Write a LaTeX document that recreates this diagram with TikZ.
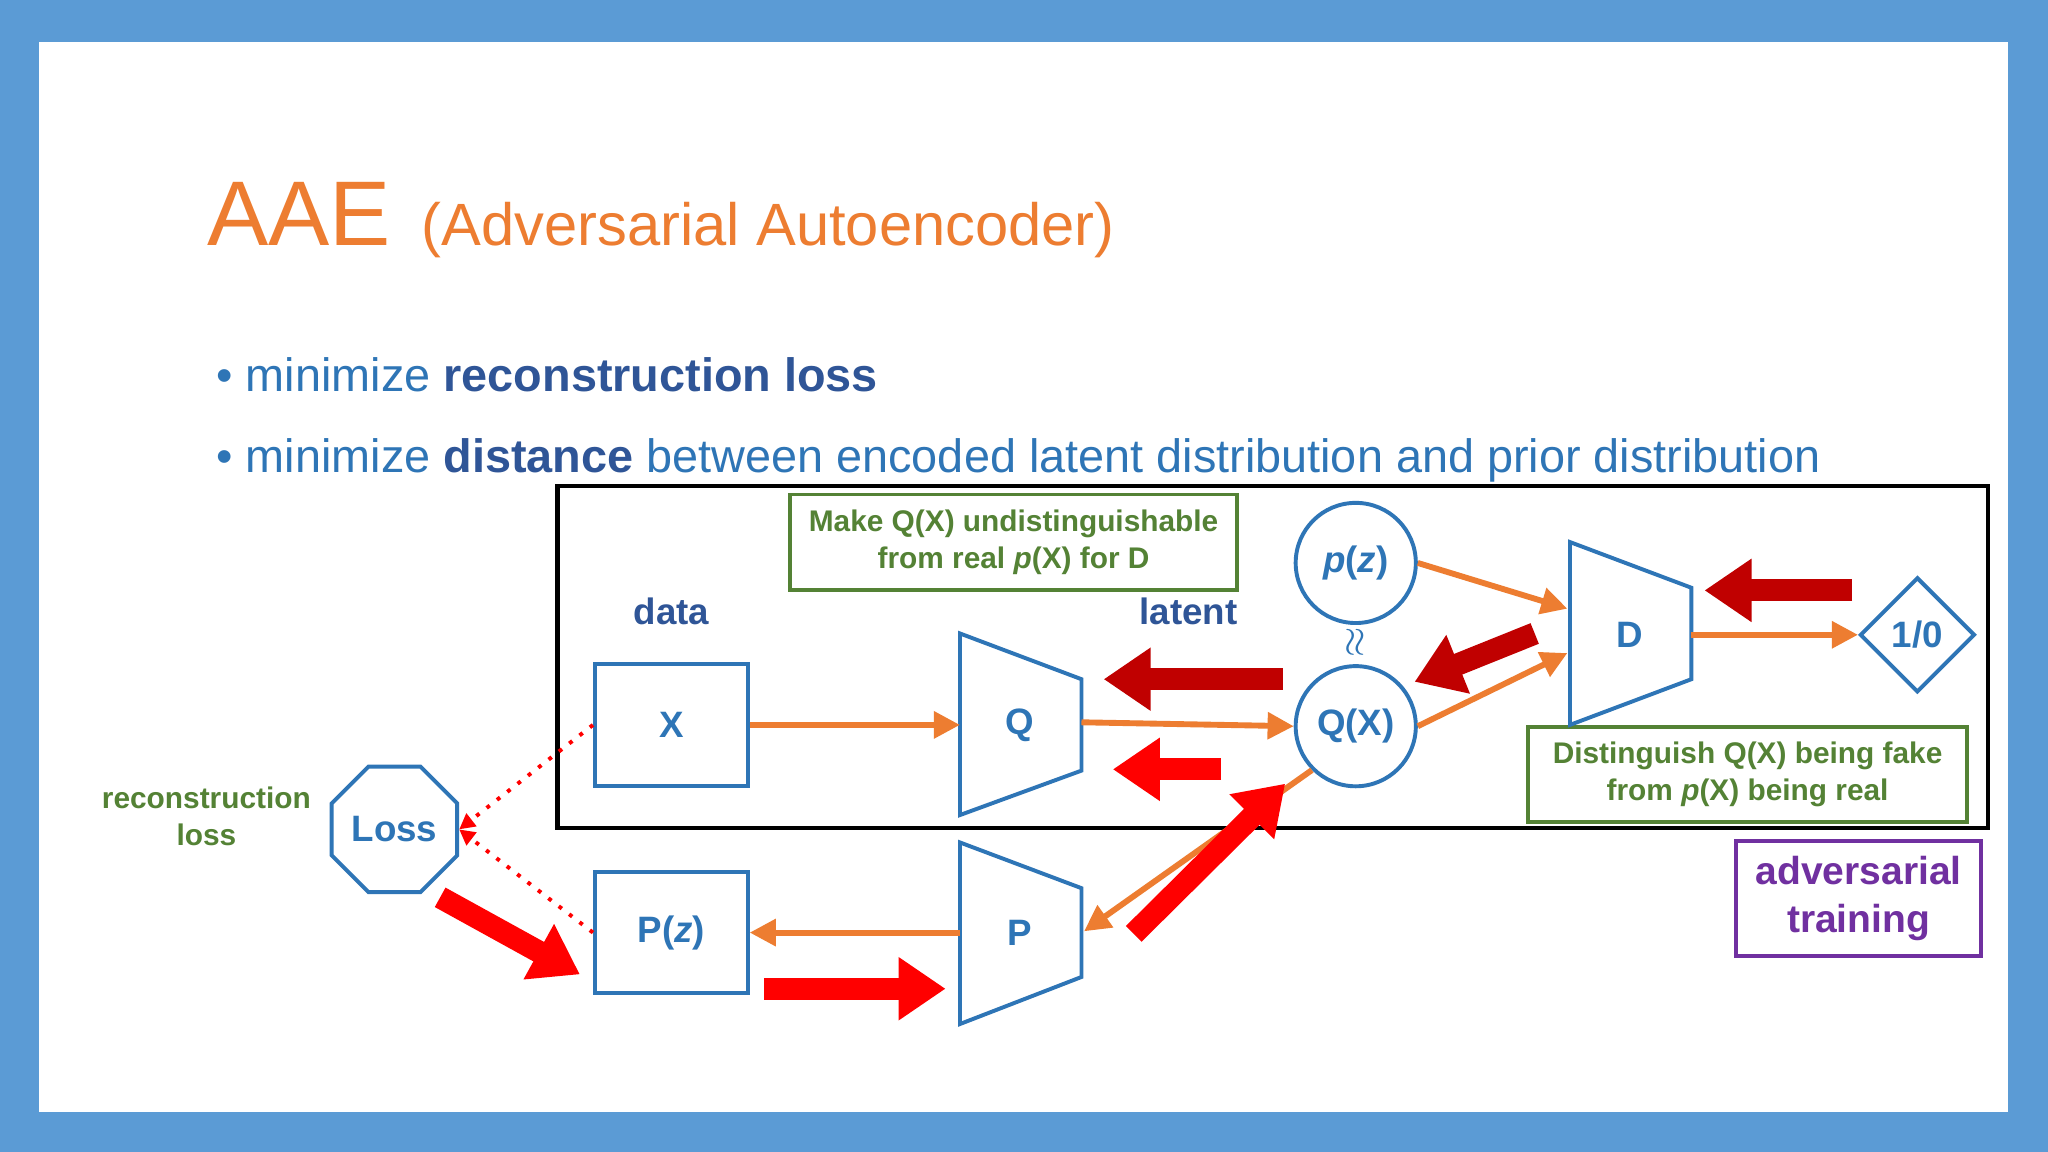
\documentclass[tikz,border=0pt]{standalone}
\usepackage{fontspec}
\setmainfont{Liberation Sans}
\usetikzlibrary{arrows.meta,shapes.geometric}
\definecolor{frame}{HTML}{5B9BD5}
\definecolor{orng}{HTML}{ED7D31}
\definecolor{bblue}{HTML}{2E75B6}
\definecolor{dblue}{HTML}{2F5597}
\definecolor{grn}{HTML}{548235}
\definecolor{purp}{HTML}{7030A0}
\definecolor{dred}{HTML}{C00000}
\tikzset{
  blk/.style={draw=bblue,line width=0.3mm,text=bblue,font=\bfseries\fontsize{8}{9}\selectfont},
  flow/.style={draw=orng,line width=0.45mm,-{Triangle[length=2mm,width=2mm]}},
  big/.style={line width=1.7mm,-{Triangle[length=3.6mm,width=4.6mm]}},
  gbox/.style={draw=grn,line width=0.3mm,text=grn,align=center,font=\bfseries\fontsize{6.5}{8}\selectfont},
  lbl/.style={text=dblue,font=\bfseries\fontsize{8}{9}\selectfont},
  dot/.style={draw=red,line width=0.3mm,dotted,-{Triangle[length=1.2mm,width=1.2mm]}}
}
\begin{document}
\begin{tikzpicture}[x=0.1mm,y=-0.1mm]
\fill[frame] (0,0) rectangle (1568,882);
\fill[white] (30,32) rectangle (1537,851);
\useasboundingbox (0,0) rectangle (1568,882);
% title and bullets
\node[anchor=base west,text=orng,inner sep=0,font=\fontsize{20}{24}\selectfont] (t1) at (158,188) {AAE};
\node[anchor=base west,text=orng,inner sep=0,font=\fontsize{13}{15}\selectfont] (t2) at (322,188) {(Adversarial Autoencoder)};
\node[anchor=base west,text=bblue,inner sep=0,font=\fontsize{10.2}{12}\selectfont] (b1) at (165,300)
  {\textbullet\ minimize \textcolor{dblue}{\bfseries reconstruction loss}};
\node[anchor=base west,text=bblue,inner sep=0,font=\fontsize{10.2}{12}\selectfont] (b2) at (165,362)
  {\textbullet\ minimize \textcolor{dblue}{\bfseries distance} between encoded latent distribution and prior distribution};
% adversarial frame
\draw[line width=0.35mm] (427,372) rectangle (1522,634);
\node[gbox,minimum width=34.2mm,minimum height=6.8mm] (g1) at (776,415) {Make Q(X) undistinguishable\\from real \emph{p}(X) for D};
\node[gbox,minimum width=33.6mm,minimum height=6.8mm] (g2) at (1338,593) {Distinguish Q(X) being fake\\from \emph{p}(X) being real};
\node[draw=purp,line width=0.3mm,text=purp,align=center,minimum width=18.8mm,minimum height=8.3mm,font=\bfseries\fontsize{8.5}{10.5}\selectfont] (adv) at (1423,688) {adversarial\\training};
\node[lbl] (ldata) at (514,468) {data};
\node[lbl] (llat) at (910,468) {latent};
\node[text=grn,align=center,font=\bfseries\fontsize{6.5}{8}\selectfont] (rl) at (158,625) {reconstruction\\loss};
% blocks
\node[blk,minimum width=11.7mm,minimum height=9.3mm] (X) at (514,555) {X};
\node[blk,minimum width=11.7mm,minimum height=9.3mm] (Pz) at (514,714) {P(\emph{z})};
\node[blk,circle,minimum size=9.2mm,inner sep=0] (QX) at (1038,556) {Q(X)};
\node[blk,circle,minimum size=9.2mm,inner sep=0] (pz) at (1038,431) {\emph{p}(\emph{z})};
\node[text=bblue,rotate=90,font=\bfseries\fontsize{8}{9}\selectfont] (approx) at (1038,492) {$\approx$};
\node[blk,diamond,minimum width=8.8mm,minimum height=8.8mm,inner sep=0] (out) at (1468,486) {1/0};
\node[blk,regular polygon,regular polygon sides=8,minimum size=10.4mm,inner sep=0] (loss) at (302,635) {Loss};
% trapezoids
\draw[bblue,line width=0.3mm] (735,485) -- (828,520) -- (828,590) -- (735,624) -- cycle;
\node[blk,draw=none] (Q) at (781,555) {Q};
\draw[bblue,line width=0.3mm] (735,645) -- (828,680) -- (828,748) -- (735,784) -- cycle;
\node[blk,draw=none] (P) at (781,714) {P};
\draw[bblue,line width=0.3mm] (1202,415) -- (1295,450) -- (1295,520) -- (1202,555) -- cycle;
\node[blk,draw=none] (D) at (1248,486) {D};
\coordinate (Qin) at (735,555); \coordinate (Qout) at (828,553);
\coordinate (Pin) at (830,713); \coordinate (Pout) at (735,714);
\coordinate (Din1) at (1200,466); \coordinate (Din2) at (1200,500); \coordinate (Dout) at (1295,486);
% orange flow
\draw[flow] (X.east) -- (Qin);
\draw[flow] (Qout) -- (QX.west);
\draw[flow] (QX.south west) -- (Pin);
\draw[flow] (Pout) -- (Pz.east);
\draw[flow] (pz.east) -- (Din1);
\draw[flow] (QX.east) -- (Din2);
\draw[flow] (Dout) -- (out.west);
% dotted to loss
\draw[dot] (X.west) -- (loss.east);
\draw[dot] (Pz.west) -- (loss.east);
% gradient arrows
\coordinate (a1s) at (1418,452); \coordinate (a1e) at (1305,452);
\coordinate (a2s) at (1175,485); \coordinate (a2e) at (1083,522);
\coordinate (a3s) at (982,520); \coordinate (a3e) at (845,520);
\coordinate (a4s) at (935,589); \coordinate (a4e) at (852,589);
\coordinate (a5s) at (868,715); \coordinate (a5e) at (984,600);
\coordinate (a6s) at (337,687); \coordinate (a6e) at (444,746);
\coordinate (a7s) at (585,757); \coordinate (a7e) at (724,757);
\draw[big,dred] (a1s) -- (a1e);
\draw[big,dred] (a2s) -- (a2e);
\draw[big,dred] (a3s) -- (a3e);
\draw[big,red] (a4s) -- (a4e);
\draw[big,red] (a5s) -- (a5e);
\draw[big,red] (a6s) -- (a6e);
\draw[big,red] (a7s) -- (a7e);
\end{tikzpicture}
\end{document}
